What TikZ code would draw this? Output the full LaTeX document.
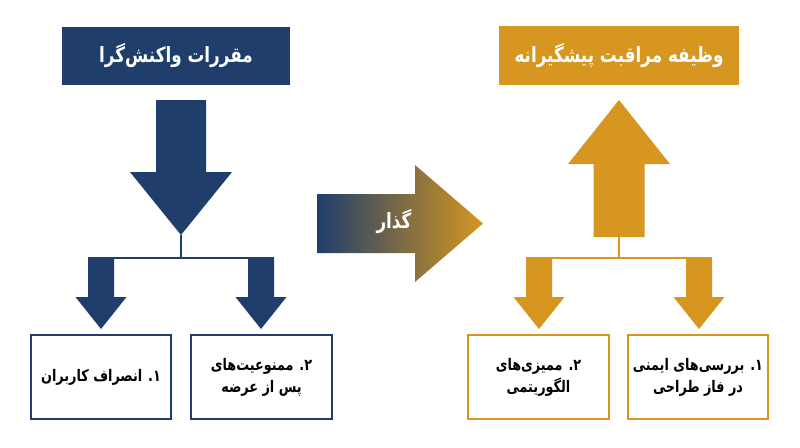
\documentclass[tikz,border=0pt]{standalone}
\usepackage{fontspec}
\newfontfamily\fa[Script=Arabic, FakeStretch=0.8]{DejaVu Sans}
\TeXXeTstate=1
\definecolor{navy}{RGB}{31,62,107}
\definecolor{gold}{RGB}{214,150,32}
\tikzset{
  titlebox/.style={inner sep=0pt, minimum width=228pt, minimum height=58pt, text=white, font=\fa\bfseries\fontsize{21}{24}\selectfont},
  itembox/.style={draw, line width=2pt, fill=white, inner sep=0pt, minimum width=140pt, minimum height=84pt, align=center, text=black, font=\fa\bfseries\fontsize{16}{22}\selectfont},
  linkline/.style={line width=2pt},
}
\begin{document}
\begin{tikzpicture}[x=1pt,y=-1pt]
\useasboundingbox (0,0) rectangle (800,447);
\fill[white] (0,0) rectangle (800,447);

% ---- titles
\node[titlebox, fill=navy] (lt) at (176,56) {\beginR مقررات واکنش^^^^200cگرا\endR};
\node[titlebox, fill=gold, minimum width=240pt, minimum height=59pt] (rt) at (619,55.5) {\beginR وظیفه مراقبت پیشگیرانه\endR};

% ---- left big down arrow
\coordinate (ltip) at (181,235);
\fill[navy] (156,100) -- (206,100) -- (206,172) -- (232,172) -- (ltip) -- (130,172) -- (156,172) -- cycle;
\coordinate (lbar) at (181,258);
\coordinate (lbarL) at (88,258);
\coordinate (lbarR) at (274,258);
\draw[navy, linkline] (ltip) -- (lbar);
\draw[navy, linkline] (lbarL) -- (lbarR);
% small arrows
\fill[navy] (88,258) -- (114,258) -- (114,297) -- (126.5,297) -- (101,329) -- (75.5,297) -- (88,297) -- cycle;
\fill[navy] (248,258) -- (274,258) -- (274,297) -- (286.5,297) -- (261,329) -- (235.5,297) -- (248,297) -- cycle;

% ---- right big up arrow
\coordinate (rtip) at (619,100);
\fill[gold] (rtip) -- (670,164) -- (644.5,164) -- (644.5,237) -- (593.5,237) -- (593.5,164) -- (568,164) -- cycle;
\coordinate (rbase) at (619,237);
\coordinate (rbar) at (619,258);
\coordinate (rbarL) at (526,258);
\coordinate (rbarR) at (712,258);
\draw[gold, linkline] (rbase) -- (rbar);
\draw[gold, linkline] (rbarL) -- (rbarR);
\fill[gold] (526,258) -- (552,258) -- (552,297) -- (564.5,297) -- (539,329) -- (513.5,297) -- (526,297) -- cycle;
\fill[gold] (686,258) -- (712,258) -- (712,297) -- (724.5,297) -- (699,329) -- (673.5,297) -- (686,297) -- cycle;

% ---- middle gradient arrow
\shade[left color=navy, right color=gold] (317,194) -- (415,194) -- (415,165) -- (483,223.5) -- (415,282) -- (415,253) -- (317,253) -- cycle;
\node[text=white, font=\fa\bfseries\fontsize{21}{24}\selectfont] (mid) at (394,222) {\beginR گذار\endR};

% ---- item boxes
\node[itembox, draw=navy] (a1) at (101,377) {\beginR ۱. انصراف کاربران\endR};
\node[itembox, draw=navy, minimum width=141pt] (a2) at (261.5,377) {\beginR ۲. ممنوعیت^^^^200cهای\endR\\\beginR پس از عرضه\endR};
\node[itembox, draw=gold, minimum width=141pt] (b2) at (538.5,377) {\beginR ۲. ممیزی^^^^200cهای\endR\\\beginR الگوریتمی\endR};
\node[itembox, draw=gold] (b1) at (698,377) {\beginR ۱. بررسی^^^^200cهای ایمنی\endR\\\beginR در فاز طراحی\endR};
\end{tikzpicture}
\end{document}
